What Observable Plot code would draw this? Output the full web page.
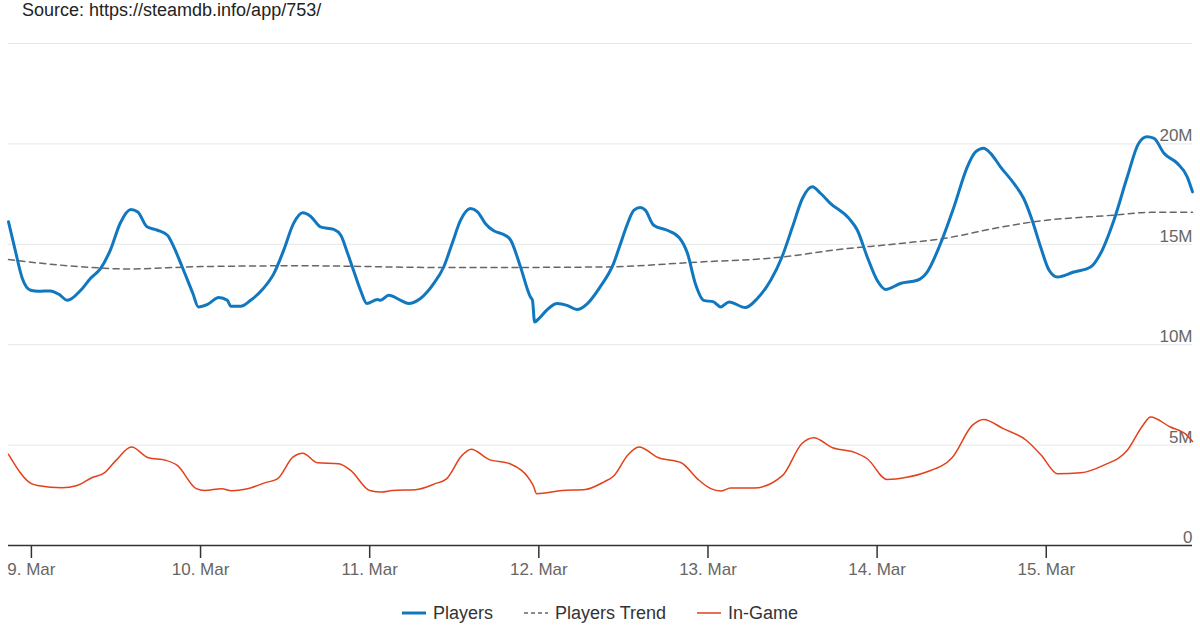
<!DOCTYPE html>
<html><head><meta charset="utf-8">
<script src="https://cdn.jsdelivr.net/npm/d3@7"></script>
<script src="https://cdn.jsdelivr.net/npm/@observablehq/plot@0.6"></script>
<style>
body{margin:0;background:#fff;font-family:"Liberation Sans",Arial,sans-serif;}
#wrap{position:relative;width:1200px;height:630px;overflow:hidden;background:#fff;}
#chart{position:absolute;left:0;top:0;}
#source{position:absolute;left:22px;top:1px;font-size:18px;line-height:18px;color:#222;white-space:nowrap;}
#legend{position:absolute;left:0;top:604px;width:1200px;display:flex;justify-content:center;gap:31px;font-size:18px;line-height:18px;color:#333;}
.item{display:flex;align-items:center;gap:7px;}
.item svg{display:block;}
</style></head><body>
<div id="wrap"><div id="chart"></div><div id="source">Source: https://steamdb.info/app/753/</div><div id="legend"></div></div>
<script>
// hours since 9 Mar 2020 00:00 UTC, values in millions
const playersHours = [-3.25,-2.3,-1.3,-0.1,1.0,2.7,3.9,5.1,7.0,8.4,9.8,11.2,12.6,14.1,15.1,16.4,17.9,19.3,20.2,21.4,22.9,23.7,25.0,26.6,27.8,28.3,29.7,31.1,32.9,34.4,35.8,37.2,38.5,39.6,41.0,42.9,43.9,44.8,45.7,46.7,47.6,49.1,49.5,50.7,52.4,53.5,55.2,57.1,58.5,59.7,60.9,62.3,63.3,64.4,65.6,67.0,68.0,69.4,70.8,71.1,71.4,72.0,73.2,74.6,76.0,77.4,78.9,80.7,82.6,83.6,84.5,85.5,86.4,87.1,88.3,90.2,91.9,93.1,94.2,95.4,96.8,97.8,99.0,101.3,103.0,104.9,106.5,108.0,109.4,110.8,112.0,113.4,116.0,117.2,118.6,120.0,121.2,123.3,125.7,127.1,129.0,130.9,132.8,134.0,135.1,136.1,137.5,139.4,140.8,142.0,143.2,144.4,145.6,147.9,150.3,151.7,153.6,155.5,157.1,158.3,159.3,160.7,162.6,164.0,164.75];
const playersValues = [16.12,14.71,13.31,12.71,12.66,12.68,12.51,12.21,12.71,13.31,13.79,14.71,16.05,16.73,16.61,15.87,15.70,15.45,14.87,13.87,12.56,11.88,12.01,12.35,12.21,11.91,11.91,12.21,12.80,13.54,14.71,16.04,16.57,16.40,15.87,15.74,15.45,14.62,13.71,12.71,12.05,12.25,12.21,12.46,12.21,12.05,12.30,13.05,13.87,15.04,16.20,16.78,16.62,16.04,15.67,15.49,15.21,13.87,12.38,12.21,11.13,11.30,11.75,12.05,11.96,11.75,12.05,12.88,14.04,15.04,15.95,16.70,16.83,16.70,15.95,15.70,15.34,14.54,13.05,12.21,12.13,11.88,12.13,11.85,12.30,13.21,14.37,15.87,17.28,17.86,17.53,17.03,16.29,15.70,14.37,13.21,12.75,13.05,13.21,13.62,15.04,16.86,18.86,19.61,19.78,19.53,18.86,18.03,17.28,16.20,14.87,13.71,13.37,13.62,13.87,14.54,16.20,18.36,20.02,20.35,20.27,19.53,19.03,18.36,17.61];

const trendHours = [-3.25,2.7,9.8,13.6,24.0,38.2,59.5,80.7,94.9,106.7,113.8,123.3,129.4,137.5,142.2,153.5,158.8,164.75];
const trendValues = [14.24,14.01,13.82,13.77,13.89,13.93,13.84,13.87,14.12,14.37,14.71,15.04,15.29,15.85,16.12,16.45,16.59,16.59];

const inGameHours = [-3.25,0.0,1.1,4.3,6.5,8.7,10.3,12.0,14.2,16.6,19.1,20.7,23.4,24.6,27.0,28.4,30.5,33.2,34.9,37.1,38.5,40.6,43.6,45.3,48.0,49.7,51.2,54.5,57.3,58.9,61.1,62.4,64.9,67.9,71.2,71.7,75.3,78.6,81.2,82.7,84.6,86.2,89.0,92.2,94.5,96.4,97.8,99.2,102.5,106.6,109.3,111.0,113.7,116.7,118.6,121.4,124.2,126.9,130.7,133.5,135.1,137.9,141.2,143.3,145.6,148.9,152.1,155.5,157.7,158.8,161.6,163.7,164.75];
const inGameValues = [4.54,3.08,2.98,2.88,2.99,3.40,3.60,4.24,4.90,4.37,4.24,3.99,2.83,2.74,2.83,2.73,2.81,3.13,3.32,4.40,4.60,4.12,4.07,3.74,2.74,2.66,2.74,2.78,3.08,3.32,4.49,4.79,4.29,4.07,2.99,2.58,2.74,2.79,3.16,3.49,4.49,4.90,4.37,4.12,3.32,2.83,2.71,2.86,2.86,3.49,5.07,5.37,4.87,4.65,4.32,3.29,3.40,3.65,4.40,5.98,6.28,5.82,5.23,4.49,3.57,3.62,3.99,4.74,5.98,6.40,5.90,5.57,5.18];

const yTicks = [0, 5, 10, 15, 20];
const yGrid = [0, 5, 10, 15, 20, 25];
const dayTicks = [9, 10, 11, 12, 13, 14, 15];

const seriesNames = ["Players", "Players Trend", "In-Game"];
const seriesColors = ["#1178c0", "#666666", "#e2411a"];

const base = Date.UTC(2020, 2, 9);
const toDate = h => new Date(base + h * 3600e3);
const build = (hs, vs) => hs.map((h, i) => ({date: toDate(h), value: vs[i] * 1e6}));
const players = build(playersHours, playersValues);
const trend = build(trendHours, trendValues);
const inGame = build(inGameHours, inGameValues);

const chart = Plot.plot({
  width: 1200, height: 630,
  marginTop: 43, marginBottom: 85, marginLeft: 8, marginRight: 8,
  x: {type: "utc", domain: [toDate(-3.25), toDate(164.75)]},
  y: {domain: [0, 25e6]},
  style: {fontFamily: "Liberation Sans, Arial, sans-serif", fontSize: "17px", background: "#fff", color: "#666"},
  marks: [
    Plot.gridY(yGrid.map(d => d * 1e6), {stroke: "#e6e6e6", strokeOpacity: 1, strokeWidth: 1}),
    Plot.axisY(yTicks.map(d => d * 1e6), {anchor: "right", tickSize: 0, tickPadding: 0, textAnchor: "end", dy: -8, fill: "#666", label: null, tickFormat: d => d === 0 ? "0" : (d / 1e6) + "M"}),
    Plot.axisX(dayTicks.map(d => new Date(Date.UTC(2020, 2, d))), {anchor: "bottom", tickSize: 13, tickPadding: 4, stroke: "#333", strokeWidth: 1.5, fill: "#666", label: null, tickFormat: d3.utcFormat("%-d. %b")}),
    Plot.ruleY([0], {stroke: "#333", strokeWidth: 1.5}),
    Plot.line(trend, {x: "date", y: "value", stroke: seriesColors[1], strokeWidth: 1.5, strokeDasharray: "6,4.5", curve: "monotone-x"}),
    Plot.line(inGame, {x: "date", y: "value", stroke: seriesColors[2], strokeWidth: 1.5, curve: "monotone-x"}),
    Plot.line(players, {x: "date", y: "value", stroke: seriesColors[0], strokeWidth: 3, curve: "monotone-x", strokeLinejoin: "round"})
  ]
});
document.getElementById("chart").appendChild(chart);

const legend = document.getElementById("legend");
const widths = [3, 1.5, 1.5];
const dashes = [null, "4,3", null];
seriesNames.forEach((name, i) => {
  const item = document.createElement("div");
  item.className = "item";
  item.innerHTML = `<svg width="24" height="10"><line x1="0" x2="24" y1="5" y2="5" stroke="${seriesColors[i]}" stroke-width="${widths[i]}" ${dashes[i] ? `stroke-dasharray="${dashes[i]}"` : ""}/></svg><span>${name}</span>`;
  legend.appendChild(item);
});
</script>
</body></html>
